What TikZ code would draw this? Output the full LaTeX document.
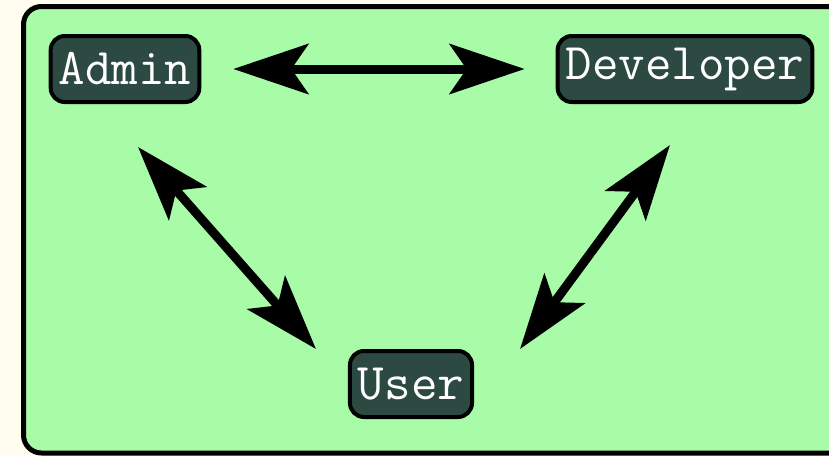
\documentclass[tikz,border=0pt]{standalone}
\usetikzlibrary{arrows.meta}
\usetikzlibrary{calc}
\definecolor{panelgreen}{RGB}{168,252,168}
\definecolor{creamback}{RGB}{255,253,240}
\definecolor{roleteal}{RGB}{44,74,66}
\tikzset{
  role/.style={draw=black, line width=4pt, fill=roleteal, rounded corners=14pt,
    text=white, font=\ttfamily\fontsize{51.5}{51.5}\selectfont,
    inner xsep=8pt, minimum height=66pt},
  link/.style={line width=9pt, {Stealth[length=75pt,width=50pt,inset=17pt]}-{Stealth[length=75pt,width=50pt,inset=17pt]}}
}

\begin{document}
\begin{tikzpicture}[x=1pt,y=-1pt]

%%%%%%%%%%%%%%%%%%%%%%%%%%%%%%%%%%%%%%%%%%%%%%%%%%%%%%%%%%%%%% Setup
\useasboundingbox[fill=creamback] (0,0) rectangle (829,456);
\clip (0,0) rectangle (829,456);
\draw[line width=5pt, fill=panelgreen, rounded corners=18pt] (23.5,6.5) rectangle (860,453);

%%%%%%%%%%%%%%%%%%%%%%%%%%%%%%%%%%%%%%%%%%%%%%%%%%%%%%%%%%%%%% Roles
\node[role] (admin) at (125,69) {Admin};
\node[role] (dev) at (685,69) {Developer};
\node[role] (user) at (411,384) {User};

%%%%%%%%%%%%%%%%%%%%%%%%%%%%%%%%%%%%%%%%%%%%%%%%%%%%%%%%%%%%%% Links
\draw[link] ([xshift=32pt]admin.east) -- ([xshift=-31pt]dev.west);
\draw[link] ($(admin.south)+(13,43)$) -- ($(user.north west)+(-32,0)$);
\draw[link] ($(dev.south)+(-15,41)$) -- ($(user.north east)+(46,0)$);

\end{tikzpicture}
\end{document}
